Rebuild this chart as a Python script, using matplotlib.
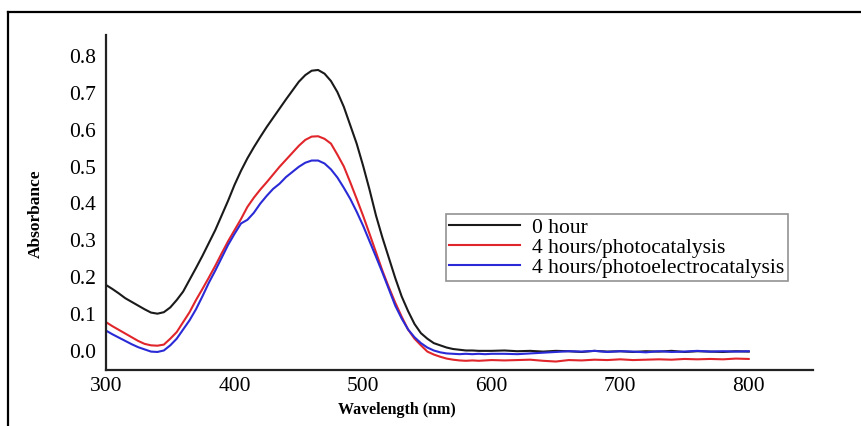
import matplotlib.pyplot as plt
from matplotlib.lines import Line2D

# wavelengths (nm): 5 nm steps to 600, then 10 nm steps
wavelength = list(range(300, 600, 5)) + list(range(600, 801, 10))

abs_0h = [0.176, 0.165, 0.153, 0.140, 0.130, 0.120, 0.110, 0.101, 0.098, 0.102,
          0.115, 0.135, 0.158, 0.190, 0.222, 0.255, 0.290, 0.325, 0.365, 0.405,
          0.448, 0.486, 0.520, 0.550, 0.578, 0.605, 0.630, 0.655, 0.680, 0.704,
          0.728, 0.746, 0.758, 0.760, 0.750, 0.730, 0.700, 0.660, 0.610, 0.560,
          0.500, 0.435, 0.365, 0.305, 0.250, 0.195, 0.145, 0.105, 0.070, 0.045,
          0.030, 0.018, 0.012, 0.006, 0.002, 0.000, -0.002, -0.002, -0.003, -0.003,
          -0.003, -0.002, -0.004, -0.003, -0.005, -0.003, -0.004, -0.006, -0.003, -0.005,
          -0.004, -0.006, -0.004, -0.005, -0.003, -0.006, -0.004, -0.005, -0.006, -0.004,
          -0.005]

abs_4h_pc = [0.075, 0.064, 0.054, 0.044, 0.034, 0.024, 0.016, 0.012, 0.011, 0.014,
             0.030, 0.048, 0.075, 0.102, 0.135, 0.165, 0.196, 0.228, 0.262, 0.295,
             0.325, 0.355, 0.388, 0.413, 0.435, 0.455, 0.476, 0.497, 0.516, 0.535,
             0.554, 0.570, 0.579, 0.580, 0.573, 0.560, 0.530, 0.498, 0.455, 0.410,
             0.364, 0.315, 0.265, 0.215, 0.170, 0.128, 0.090, 0.055, 0.030, 0.012,
             -0.005, -0.013, -0.019, -0.024, -0.027, -0.029, -0.030, -0.029, -0.030, -0.029,
             -0.028, -0.029, -0.028, -0.027, -0.030, -0.032, -0.028, -0.029, -0.027, -0.028,
             -0.026, -0.028, -0.027, -0.026, -0.027, -0.025, -0.026, -0.025, -0.026, -0.024,
             -0.025]

abs_4h_pec = [0.052, 0.042, 0.033, 0.024, 0.015, 0.007, 0.001, -0.005, -0.006, -0.002,
              0.012, 0.030, 0.055, 0.080, 0.110, 0.145, 0.182, 0.215, 0.250, 0.285,
              0.315, 0.343, 0.353, 0.372, 0.397, 0.418, 0.437, 0.451, 0.469, 0.483,
              0.497, 0.508, 0.514, 0.514, 0.506, 0.490, 0.468, 0.440, 0.410, 0.375,
              0.337, 0.295, 0.253, 0.210, 0.165, 0.120, 0.085, 0.055, 0.034, 0.018,
              0.006, -0.002, -0.007, -0.010, -0.011, -0.012, -0.011, -0.012, -0.011, -0.012,
              -0.011, -0.011, -0.012, -0.010, -0.008, -0.006, -0.004, -0.005, -0.003, -0.006,
              -0.004, -0.005, -0.007, -0.004, -0.006, -0.005, -0.003, -0.005, -0.004, -0.005,
              -0.004]

labels = ['0 hour', '4 hours/photocatalysis', '4 hours/photoelectrocatalysis']
colors = ['#1a1a1a', '#e0262b', '#2a2ad6']

x_ticks = [300, 400, 500, 600, 700, 800]
y_ticks = [0.0, 0.1, 0.2, 0.3, 0.4, 0.5, 0.6, 0.7, 0.8]

plt.rcParams['font.family'] = ['Liberation Serif', 'DejaVu Serif']

fig = plt.figure(figsize=(8.61, 4.27), dpi=100)
ax = fig.add_axes([106/861, 1 - 371/427, 707/861, 335/427])

for ys, lab, c in zip([abs_0h, abs_4h_pc, abs_4h_pec], labels, colors):
    ax.plot(wavelength, ys, color=c, linewidth=1.5, label=lab)

ax.set_xlim(300, 850)
ax.set_ylim(-0.055, 0.855)
ax.set_xticks(x_ticks)
ax.set_yticks(y_ticks)
ax.set_yticklabels([f'{v:.1f}' for v in y_ticks])
ax.tick_params(length=0, labelsize=15.5, pad=7)
ax.tick_params(axis='x', pad=4)

for s in ['top', 'right']:
    ax.spines[s].set_visible(False)
for s in ['left', 'bottom']:
    ax.spines[s].set_linewidth(1.6)
    ax.spines[s].set_color('#222222')

ax.set_ylabel('Absorbance', fontsize=12.5, fontweight='bold')
ax.yaxis.set_label_coords(-0.088, 0.47)
fig.text(397/861, 1 - 410/427, 'Wavelength (nm)', fontsize=11.5,
         fontweight='bold', ha='center', va='center')

leg = ax.legend(loc='upper left', bbox_to_anchor=(446/861, 1 - 215/427),
                bbox_transform=fig.transFigure, fontsize=15.5, frameon=True,
                fancybox=False, edgecolor='#777777', labelspacing=0.0,
                borderpad=0.15, handlelength=3.3, handletextpad=0.55,
                borderaxespad=0)
leg.get_frame().set_linewidth(1.2)

# outer frame lines (top and left)
fig.add_artist(Line2D([8/861, 1], [1 - 12.5/427] * 2, color='black', linewidth=1.6,
                      transform=fig.transFigure))
fig.add_artist(Line2D([8/861] * 2, [0, 1 - 12.5/427], color='black', linewidth=1.6,
                      transform=fig.transFigure))

fig.savefig('out.png', dpi=100)
